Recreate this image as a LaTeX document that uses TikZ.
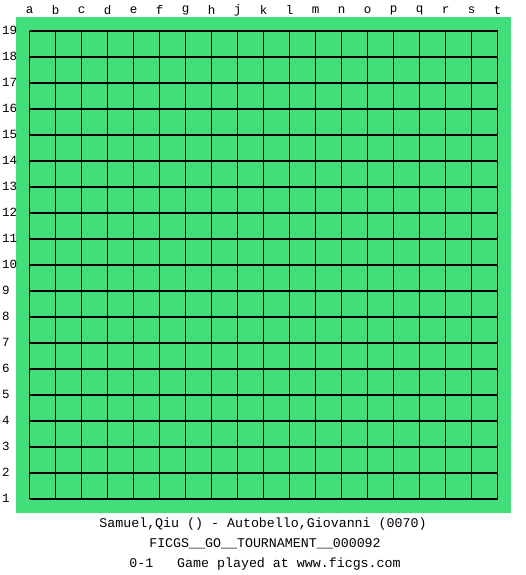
\documentclass[tikz,border=0pt]{standalone}
\usepackage{fontspec}
\setmonofont{Liberation Mono}
\definecolor{board}{RGB}{66,222,122}
\begin{document}
\begin{tikzpicture}[x=1pt,y=-1pt,
  lbl/.style={font=\ttfamily\fontsize{12.5}{14}\selectfont, inner sep=0pt},
  captext/.style={font=\ttfamily\fontsize{13.3}{15}\selectfont, inner sep=0pt},
  gridline/.style={line width=1.1pt, black}]
\useasboundingbox (0,0) rectangle (525,575);
\fill[white] (0,0) rectangle (525,575);
\fill[board] (16,17) rectangle (511,513);
\foreach \i in {0,...,18} {
  \draw[gridline] ({29.5+26*\i},31) -- ({29.5+26*\i},499);
  \draw[gridline] (29.5,{31+26*\i}) -- (497.5,{31+26*\i});
}
\foreach \c [count=\i from 0] in {a,b,c,d,e,f,g,h,j,k,l,m,n,o,p,q,r,s,t} {
  \node[lbl] (col\c) at ({29.5+26*\i},10) {\c};
}
\foreach \r in {1,...,19} {
  \node[lbl, anchor=west] (row\r) at (2,{31+26*(19-\r)-1}) {\r};
}
\node[captext] (players) at (263,524) {Samuel,Qiu () - Autobello,Giovanni (0070)};
\node[captext] (event) at (265,544) {FICGS\_\_GO\_\_TOURNAMENT\_\_000092};
\node[captext] (result) at (265,564) {0-1\ \ \ Game played at www.ficgs.com};
\end{tikzpicture}
\end{document}
